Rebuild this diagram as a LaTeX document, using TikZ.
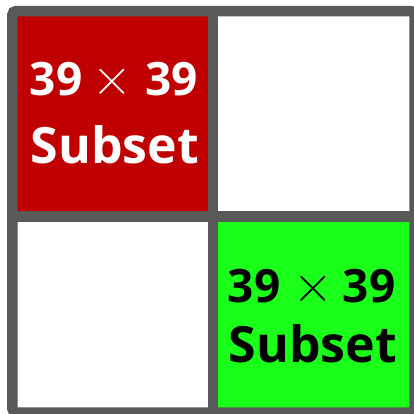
\documentclass[tikz,border=0pt]{standalone}
\usepackage{fontspec}
\setmainfont{Open Sans}
\newfontfamily\lmrfont{Latin Modern Roman}
\definecolor{gridgray}{RGB}{89,89,89}
\definecolor{cellred}{RGB}{192,0,0}
\definecolor{cellgreen}{RGB}{26,255,26}
\begin{document}
\begin{tikzpicture}[x=1pt,y=-1pt,
  num/.style={font=\fontsize{46}{50}\selectfont\bfseries, anchor=base, inner sep=0pt},
  tms/.style={font=\lmrfont\fontsize{55}{60}\selectfont, anchor=base, inner sep=0pt},
  word/.style={font=\fontsize{50}{55}\selectfont\bfseries, anchor=base, inner sep=0pt}]
\useasboundingbox (0,0) rectangle (414,413);
\fill[white] (0,0) rectangle (414,413);
% cells
\fill[cellred] (17,16) rectangle (209,212);
\fill[cellgreen] (217,220) rectangle (410,408);
% grid
\draw[gridgray, line width=10.5pt, rounded corners=4pt] (12.3,11) rectangle (414.5,412.5);
\draw[gridgray, line width=10.5pt] (213,11) -- (213,412.5);
\draw[gridgray, line width=10.5pt] (12.3,216.5) -- (414.5,216.5);
% red cell text
\begin{scope}[text=white]
\node[num] (ra) at (56,95) {39};
\node[tms] (rx) at (112.5,95) {×};
\node[num] (rb) at (171.5,95) {39};
\node[word] (rw) at (115,163) {Subset};
\end{scope}
% green cell text
\begin{scope}[text=black]
\node[num] (ga) at (254,302) {39};
\node[tms] (gx) at (313,302) {×};
\node[num] (gb) at (369,302) {39};
\node[word] (gw) at (313,362) {Subset};
\end{scope}
\end{tikzpicture}
\end{document}
